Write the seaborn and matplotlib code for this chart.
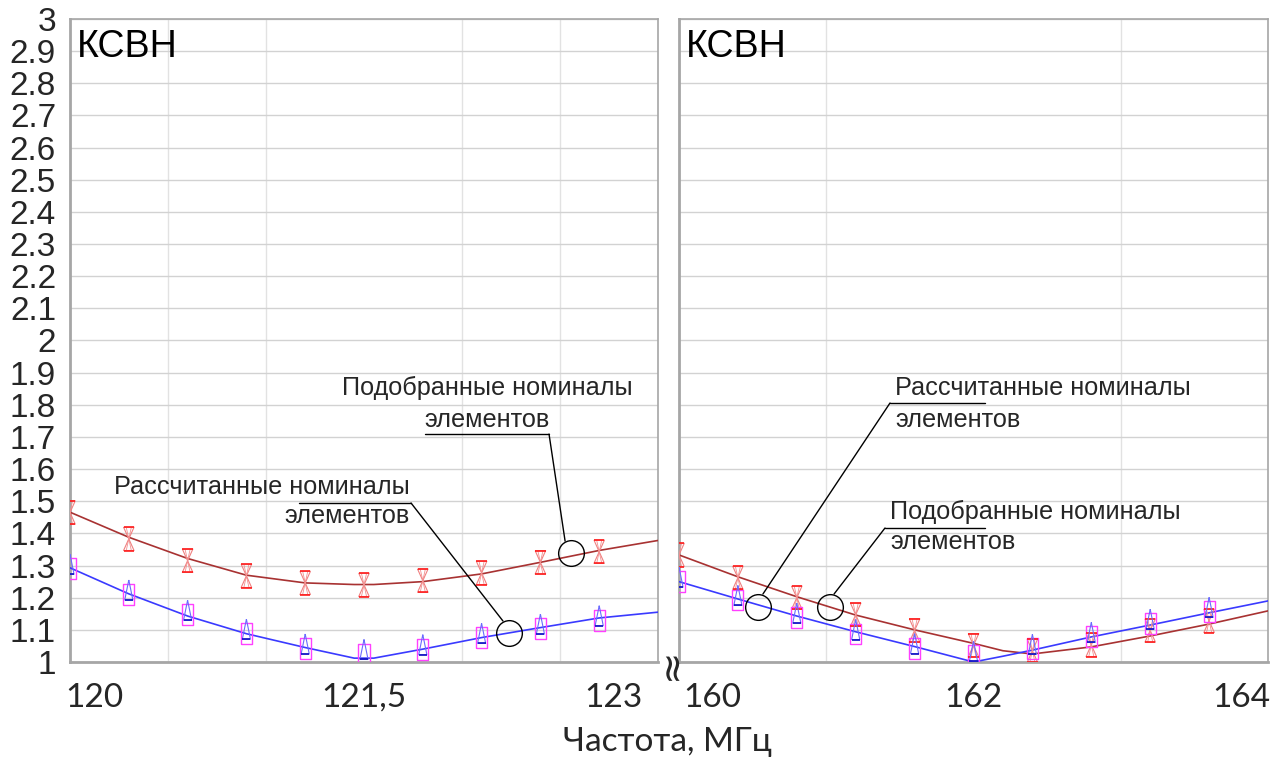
import numpy as np
import pandas as pd
import matplotlib
matplotlib.use("Agg")
import matplotlib.pyplot as plt
import seaborn as sns
from matplotlib.path import Path
from matplotlib.transforms import ScaledTranslation

# ---------------- data ----------------
freq_left_pts = [120.0, 120.3, 120.6, 120.9, 121.2, 121.5, 121.8, 122.1, 122.4, 122.7]
sel_left_pts = [1.465, 1.383, 1.315, 1.268, 1.246, 1.240, 1.253, 1.277, 1.310, 1.343]
calc_left_pts = [1.290, 1.210, 1.147, 1.088, 1.042, 1.025, 1.040, 1.075, 1.104, 1.130]

freq_left_line = [120.0, 120.3, 120.6, 120.9, 121.2, 121.45, 121.55, 121.8, 122.1, 122.4, 122.7, 123.0]
sel_left_line = [1.466, 1.388, 1.322, 1.270, 1.246, 1.241, 1.241, 1.250, 1.274, 1.310, 1.347, 1.378]
calc_left_line = [1.293, 1.212, 1.143, 1.088, 1.045, 1.012, 1.012, 1.040, 1.076, 1.107, 1.137, 1.155]

freq_right_pts = [160.0, 160.4, 160.8, 161.2, 161.6, 162.0, 162.4, 162.8, 163.2, 163.6]
sel_right_pts = [1.333, 1.262, 1.200, 1.147, 1.098, 1.052, 1.035, 1.053, 1.098, 1.128]
calc_right_pts = [1.250, 1.193, 1.138, 1.087, 1.043, 1.020, 1.041, 1.078, 1.119, 1.156]

freq_right_line = [160.0, 160.4, 160.8, 161.2, 161.6, 162.0, 162.2, 162.4, 162.8, 163.2, 163.6, 164.0]
sel_right_line = [1.333, 1.265, 1.203, 1.146, 1.100, 1.058, 1.035, 1.025, 1.047, 1.081, 1.118, 1.159]
calc_right_line = [1.250, 1.196, 1.143, 1.094, 1.048, 1.000, 1.018, 1.037, 1.078, 1.115, 1.153, 1.190]

y_ticks = [1.0, 1.1, 1.2, 1.3, 1.4, 1.5, 1.6, 1.7, 1.8, 1.9, 2.0,
           2.1, 2.2, 2.3, 2.4, 2.5, 2.6, 2.7, 2.8, 2.9, 3.0]
y_tick_labels = ["1", "1.1", "1.2", "1.3", "1.4", "1.5", "1.6", "1.7", "1.8", "1.9", "2",
                 "2.1", "2.2", "2.3", "2.4", "2.5", "2.6", "2.7", "2.8", "2.9", "3"]
x_ticks_left = [120, 121.5, 123]
x_tick_labels_left = ["120", "121,5", "123"]
x_ticks_right = [160, 162, 164]
x_tick_labels_right = ["160", "162", "164"]
x_grid_left = [120.5, 121.0, 121.5, 122.0, 122.5]
x_grid_right = [161, 162, 163]

title_text = "КСВН"
xlabel_text = "Частота, МГц"
label_sel = ("Подобранные номиналы", "элементов")
label_calc = ("Рассчитанные номиналы", "элементов")

# ---------------- style ----------------
sns.set_theme(style="white")
plt.rcParams["font.family"] = ["Liberation Sans", "DejaVu Sans"]

RED_LINE = "#a83232"
BLUE_LINE = "#3a3aff"
GRID = "#d2d2d2"
SPINE = "#a6a6a6"

M, L = Path.MOVETO, Path.LINETO
hour_path = Path([(-0.45, 1), (0.45, 1), (-0.45, -1), (0.45, -1), (-0.45, 1)], [M, L, L, L, L])
hour_inner = Path([(-0.22, 1), (0.22, -1), (0.22, 1), (-0.22, -1), (0, 1), (0, -1)],
                  [M, L, M, L, M, M])
hour_bars = Path([(-0.45, 1), (0.45, 1), (-0.45, -1), (0.45, -1)], [M, L, M, L])
tri_path = Path([(0, 1), (0.28, -0.38), (-0.28, -0.38), (0, 1), (0, -1)], [M, L, L, L, M])
rect_path = Path([(0, 1), (-0.38, -0.72), (0.38, -0.72), (0.38, 0.72), (-0.38, 0.72), (-0.38, -0.72), (0, -1)],
                 [M, M, L, L, L, L, M])
bar_path = Path([(0, 1), (-0.28, -0.38), (0.28, -0.38), (0, -1)], [M, M, L, M])

RED_S = 16.8 ** 2
BLUE_S = 20.9 ** 2

fig = plt.figure(figsize=(12.76, 7.6), dpi=100)
W, H = 1276, 760
axL = fig.add_axes([70 / W, 98 / H, 588 / W, 643 / H])
axR = fig.add_axes([679 / W, 98 / H, 589 / W, 643 / H])


def draw_panel(ax, fp, sel_p, calc_p, fl, sel_l, calc_l):
    sns.lineplot(x=fl, y=sel_l, ax=ax, color=RED_LINE, lw=1.2, sort=False, zorder=3)
    sns.lineplot(x=fl, y=calc_l, ax=ax, color=BLUE_LINE, lw=1.2, sort=False, zorder=3)
    sns.scatterplot(x=fp, y=sel_p, ax=ax, marker=hour_path, s=RED_S, fc="none",
                    ec="#f08080", linewidth=0.8, zorder=4)
    sns.scatterplot(x=fp, y=sel_p, ax=ax, marker=hour_inner, s=RED_S, fc="none",
                    ec="#f29090", linewidth=0.6, zorder=4)
    sns.scatterplot(x=fp, y=sel_p, ax=ax, marker=hour_bars, s=RED_S, fc="none",
                    ec="#ff1010", linewidth=1.1, zorder=5)
    sns.scatterplot(x=fp, y=calc_p, ax=ax, marker=rect_path, s=BLUE_S, fc="none",
                    ec="#ff40ff", linewidth=1.0, zorder=4)
    sns.scatterplot(x=fp, y=calc_p, ax=ax, marker=tri_path, s=BLUE_S, fc="none",
                    ec="#6a6aff", linewidth=0.8, zorder=5)
    sns.scatterplot(x=fp, y=calc_p, ax=ax, marker=bar_path, s=BLUE_S, fc="none",
                    ec="#1010c0", linewidth=1.2, zorder=5)
    ax.set_ylim(1, 3)
    ax.set_yticks(y_ticks)
    ax.grid(axis="y", which="major", color=GRID, lw=1.0)
    ax.tick_params(length=0)
    for side in ["left", "bottom"]:
        ax.spines[side].set_color(SPINE)
        ax.spines[side].set_linewidth(2.0)
    for side in ["top", "right"]:
        ax.spines[side].set_color(SPINE)
        ax.spines[side].set_linewidth(1.2)
    ax.set_xlabel("")
    ax.set_ylabel("")
    ax.text(0.012, 0.941, title_text, transform=ax.transAxes, fontsize=27,
            ha="left", va="baseline", color="black", zorder=6)


draw_panel(axL, freq_left_pts, sel_left_pts, calc_left_pts, freq_left_line, sel_left_line, calc_left_line)
draw_panel(axR, freq_right_pts, sel_right_pts, calc_right_pts, freq_right_line, sel_right_line, calc_right_line)

axL.set_xlim(120, 123)
axR.set_xlim(160, 164)
for ax, gx in [(axL, x_grid_left), (axR, x_grid_right)]:
    ax.set_xticks(gx, minor=True)
    ax.grid(axis="x", which="minor", color="#e2e2e2", lw=1.0)
    ax.grid(axis="x", which="major", visible=False)
    ax.set_axisbelow(True)

axL.set_yticklabels(y_tick_labels, fontsize=24)
axL.tick_params(axis="y", pad=10)
axR.set_yticklabels([])

axL.set_xticks(x_ticks_left)
axL.set_xticklabels(x_tick_labels_left, fontsize=24, family="Lato")
axR.set_xticks(x_ticks_right)
axR.set_xticklabels(x_tick_labels_right, fontsize=24, family="Lato")
for ax, dx0, dx1 in [(axL, -5, -15), (axR, 4, 2)]:
    ax.tick_params(axis="x", pad=15)
    labs = ax.get_xticklabels()
    labs[0].set_ha("left")
    labs[0].set_transform(labs[0].get_transform() + ScaledTranslation(dx0 / 100, 0, fig.dpi_scale_trans))
    labs[-1].set_ha("right")
    labs[-1].set_transform(labs[-1].get_transform() + ScaledTranslation(dx1 / 100, 0, fig.dpi_scale_trans))

fig.text(667 / W, 1 - 742 / H, xlabel_text, fontsize=24, family="Lato", ha="center", va="center")
fig.text(670 / W, 1 - 664 / H, "≈", fontsize=28, rotation=90, ha="center", va="center",
         family="DejaVu Sans")

# ---------------- annotations ----------------
AFS = 18.2


def callout(ax, lines, tx, ty1, ty2, ha, seg, leader_start, leader_end, circ):
    ax.text(tx, ty1, lines[0], fontsize=AFS, ha=ha, va="center", zorder=7)
    ax.text(tx, ty2, lines[1], fontsize=AFS, ha=ha, va="center", zorder=7)
    x0, x1, yl = seg
    ax.plot([x0, x1], [yl, yl], color="black", lw=1.0, zorder=7, clip_on=False)
    ax.plot([leader_start[0], leader_end[0]], [leader_start[1], leader_end[1]],
            color="black", lw=1.0, zorder=7)
    ax.plot([circ[0]], [circ[1]], marker="o", ms=18.5, mfc="none", mec="black", mew=1.0, zorder=8)


# left panel
callout(axL, label_sel, 122.128, 1.852, 1.753, "center",
        (121.811, 122.444, 1.709), (122.444, 1.709), (122.526, 1.376), (122.556, 1.339))
callout(axL, label_calc, 121.735, 1.544, 1.454, "right",
        (121.168, 121.740, 1.4945), (121.740, 1.4945), (122.209, 1.1275), (122.240, 1.090))
# right panel
callout(axR, label_calc, 161.467, 1.852, 1.753, "left",
        (161.433, 162.078, 1.8056), (161.433, 1.8056), (160.570, 1.2115), (160.537, 1.171))
callout(axR, label_sel, 161.433, 1.4666, 1.373, "left",
        (161.399, 162.078, 1.4168), (161.399, 1.4168), (161.053, 1.2115), (161.025, 1.171))

fig.savefig("out.png", dpi=100, facecolor="white")
